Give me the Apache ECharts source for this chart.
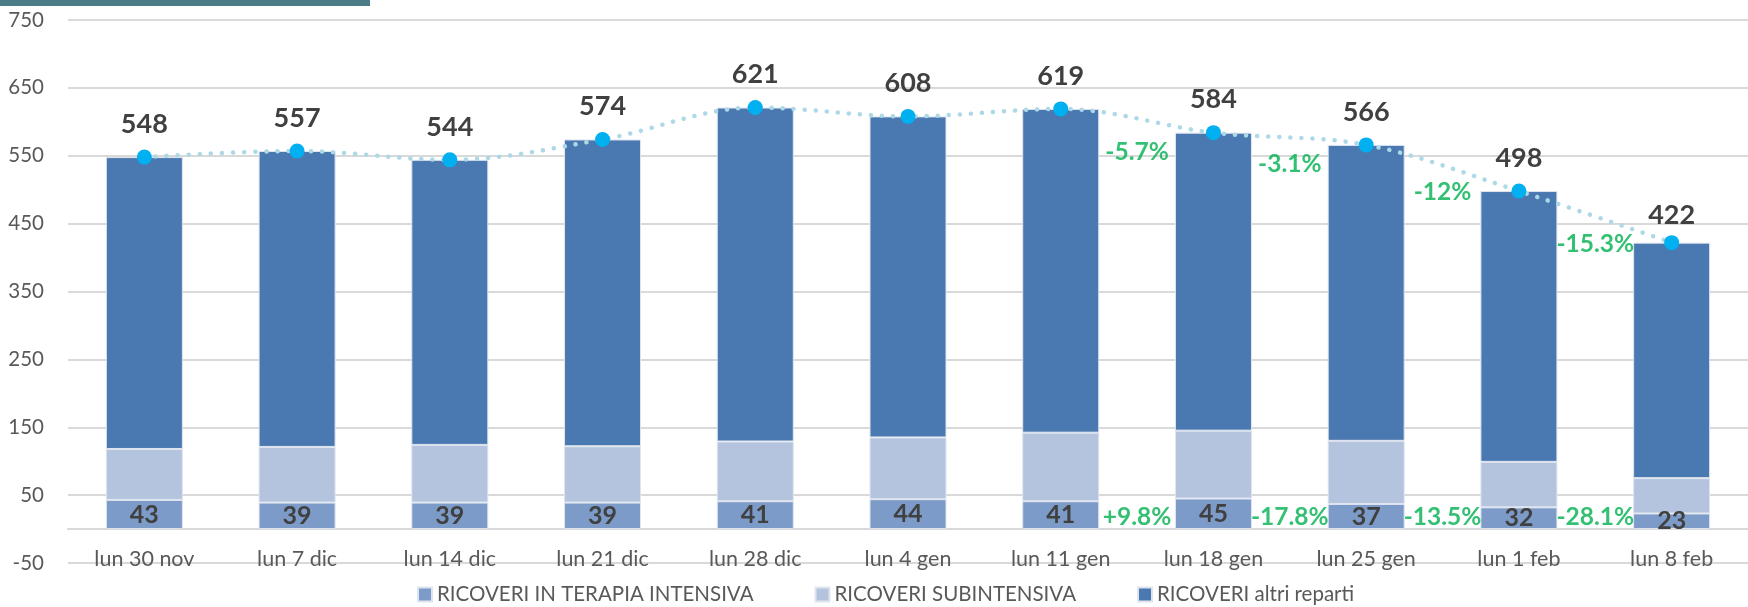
<!DOCTYPE html>
<html>
<head>
<meta charset="utf-8">
<script src="https://cdn.jsdelivr.net/npm/echarts@6/dist/echarts.min.js"></script>
<style>
html,body{margin:0;padding:0;background:#fff;}
#c{width:1748px;height:607px;}
</style>
</head>
<body>
<div id="c"></div>
<script>
// ---- data ----
const categories = ['lun 30 nov','lun 7 dic','lun 14 dic','lun 21 dic','lun 28 dic','lun 4 gen','lun 11 gen','lun 18 gen','lun 25 gen','lun 1 feb','lun 8 feb'];
const intensiva = [43, 39, 39, 39, 41, 44, 41, 45, 37, 32, 23];
const subintensiva = [75, 82, 85, 83, 88, 91, 101, 100, 93, 67, 52];
const altriReparti = [430, 436, 420, 452, 492, 473, 477, 439, 436, 399, 347];
const totali = [548, 557, 544, 574, 621, 608, 619, 584, 566, 498, 422];
const seriesNames = ['RICOVERI IN TERAPIA INTENSIVA', 'RICOVERI SUBINTENSIVA', 'RICOVERI altri reparti'];
// weekly % changes shown between the last weeks
const pctTotaliText = ['-5.7%', '-3.1%', '-12%', '-15.3%'];
const pctIntensivaText = ['+9.8%', '-17.8%', '-13.5%', '-28.1%'];
const pctFromIndex = 6; // changes start between category 6 and 7
const yTicksMin = -50, yTicksMax = 750, yTickStep = 100;

// label anchor heights (in axis units) for the percentage labels
const pctTotaliAnchor = [555, 537, 497, 420];
const pctIntensivaAnchor = [17, 17, 17, 17];

const FONT = 'Lato';
const chart = echarts.init(document.getElementById('c'), null, {renderer: 'canvas'});

const topPctData = pctTotaliText.map((t, i) => ({value: [pctFromIndex + i + 0.5, pctTotaliAnchor[i]], name: t}));
const botPctData = pctIntensivaText.map((t, i) => ({value: [pctFromIndex + i + 0.5, pctIntensivaAnchor[i]], name: t}));

const lineData = totali.map((v, i) => i === totali.length - 1
  ? {value: v, label: {distance: 6}} : v);

const greenLabel = {
  show: true, position: 'inside', formatter: p => p.name,
  color: '#00b050', fontFamily: FONT, fontWeight: 'bold', fontSize: 24.5
};

chart.setOption({
  animation: false,
  backgroundColor: '#ffffff',
  textStyle: {fontFamily: FONT},
  graphic: [{type: 'rect', left: 0, top: 0, shape: {width: 370, height: 6}, style: {fill: '#4b7c88'}}],
  grid: {left: 68, width: 1688, top: 20, bottom: 44, containLabel: false},
  legend: {
    data: seriesNames, left: 412, top: 579, itemWidth: 14, itemHeight: 14, itemGap: 61,
    icon: 'rect',
    textStyle: {fontFamily: FONT, fontSize: 20.5, color: '#595959'}
  },
  xAxis: [{
    type: 'category', data: categories, boundaryGap: true,
    axisLine: {show: true, onZero: true, lineStyle: {color: '#d9d9d9', width: 2}},
    axisTick: {show: false},
    axisLabel: {fontFamily: FONT, fontSize: 21.5, color: '#595959', margin: -15}
  }, {
    type: 'value', min: -0.5, max: categories.length - 0.5, show: false
  }],
  yAxis: {
    type: 'value', min: yTicksMin, max: yTicksMax, interval: yTickStep,
    axisLine: {show: false}, axisTick: {show: false},
    axisLabel: {fontFamily: FONT, fontSize: 20.5, color: '#595959', margin: 24},
    splitLine: {lineStyle: {color: '#d9d9d9', width: 2}}
  },
  series: [
    {
      name: seriesNames[0], type: 'bar', stack: 'tot', data: intensiva, barWidth: 77,
      itemStyle: {color: '#7c9bc8', borderColor: '#dfe5ef', borderWidth: 1},
      label: {show: true, position: 'inside', color: '#404040', fontFamily: FONT, fontWeight: 'bold', fontSize: 25}
    },
    {
      name: seriesNames[1], type: 'bar', stack: 'tot', data: subintensiva, barWidth: 77,
      itemStyle: {color: '#b4c4de', borderColor: '#dfe5ef', borderWidth: 1}
    },
    {
      name: seriesNames[2], type: 'bar', stack: 'tot', data: altriReparti, barWidth: 77,
      itemStyle: {color: '#4a78b0', borderColor: '#dfe5ef', borderWidth: 1}
    },
    {
      name: 'Totale', type: 'line', data: lineData, smooth: 0.35, z: 5,
      symbol: 'circle', symbolSize: 15,
      itemStyle: {color: '#00b0f0'},
      lineStyle: {color: '#add8e6', width: 4.5, type: [0.1, 11], cap: 'round'},
      label: {show: true, position: 'top', distance: 12, color: '#404040', fontFamily: FONT, fontWeight: 'bold', fontSize: 27}
    },
    {
      name: 'pctTot', type: 'scatter', xAxisIndex: 1, data: topPctData, symbolSize: 1,
      itemStyle: {color: 'rgba(0,0,0,0)'}, label: greenLabel, z: 6
    },
    {
      name: 'pctInt', type: 'scatter', xAxisIndex: 1, data: botPctData, symbolSize: 1,
      itemStyle: {color: 'rgba(0,0,0,0)'}, label: greenLabel, z: 6
    }
  ]
});
</script>
</body>
</html>
